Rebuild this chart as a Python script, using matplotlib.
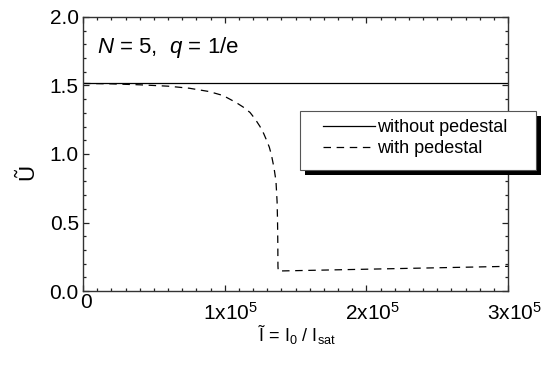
import matplotlib
matplotlib.use("Agg")
import matplotlib.pyplot as plt
from matplotlib.patches import Rectangle
from matplotlib.transforms import ScaledTranslation
from matplotlib.ticker import MultipleLocator

plt.rcParams['font.family'] = ['Liberation Sans', 'DejaVu Sans']
plt.rcParams['mathtext.fontset'] = 'custom'
plt.rcParams['mathtext.rm'] = 'Liberation Sans'
plt.rcParams['mathtext.it'] = 'Liberation Sans:italic'

# Normalised intensity and energy for the two pulse shapes
x_flat = [0, 300000]
u_flat = [1.52, 1.52]

x_ped = [0, 20000, 40000, 60000, 75000, 88900, 98800, 108000, 113000,
         117900, 121500, 124900, 127500, 129500, 131500, 133000, 134800,
         136200, 137000, 137300, 137500, 137600, 137800, 300000]
u_ped = [1.515, 1.512, 1.505, 1.495, 1.480, 1.456, 1.427, 1.376, 1.343,
         1.303, 1.255, 1.201, 1.150, 1.102, 1.050, 0.993, 0.900,
         0.803, 0.650, 0.518, 0.350, 0.182, 0.146, 0.180]

x_ticks = [0, 100000, 200000, 300000]
x_ticklabels = ['0', r'$\mathrm{1x10}^5$', r'$\mathrm{2x10}^5$', r'$\mathrm{3x10}^5$']
y_ticks = [0.0, 0.5, 1.0, 1.5, 2.0]
y_ticklabels = ['0.0', '0.5', '1.0', '1.5', '2.0']

series_labels = ['without pedestal', 'with pedestal']

fig = plt.figure(figsize=(5.52, 3.66), dpi=100)
ax = fig.add_axes([0.1504, 0.2049, 0.7699, 0.7487])

ax.plot(x_flat, u_flat, color='black', lw=0.9, label=series_labels[0])
ax.plot(x_ped, u_ped, color='black', lw=0.9, dashes=(6, 4.5), label=series_labels[1])

ax.set_xlim(0, 300000)
ax.set_ylim(0, 2.0)
ax.set_xticks(x_ticks)
ax.set_xticklabels(x_ticklabels)
ax.set_yticks(y_ticks)
ax.set_yticklabels(y_ticklabels)
ax.xaxis.set_minor_locator(MultipleLocator(10000))
ax.yaxis.set_minor_locator(MultipleLocator(0.1))
ax.tick_params(which='both', direction='in', top=True, right=True,
               width=0.9, colors='#222222', labelcolor='black', labelsize=15)
ax.tick_params(which='major', length=4)
ax.tick_params(which='minor', length=2)
ax.tick_params(axis='x', which='major', pad=8)
ax.tick_params(axis='y', which='major', pad=3)
for s in ax.spines.values():
    s.set_linewidth(1.0)
    s.set_color('#333333')

ax.set_xlabel('Ĩ = $\\mathrm{I}_0$ / $\\mathrm{I}_{\\mathrm{sat}}$', fontsize=13)
ax.xaxis.set_label_coords(0.5035, -0.117)
ax.set_ylabel('Ũ', fontsize=16)
ax.yaxis.label.set(va='center', ha='center')
ax.yaxis.set_label_coords(-0.129, 0.434)

ax.text(0.033, 0.869, r'$N$ = 5,  $q$ = 1/e', fontsize=16,
        transform=ax.transAxes, va='baseline')

# Legend box with a solid drop shadow, overhanging the right spine
bx, by, bw, bh = 0.5106, 0.4416, 0.5553, 0.2153
ax.add_patch(Rectangle((bx + 0.0118, by - 0.0183), bw, bh, transform=ax.transAxes,
                       facecolor='black', edgecolor='none', clip_on=False, zorder=4))
ax.add_patch(Rectangle((bx, by), bw, bh, transform=ax.transAxes,
                       facecolor='white', edgecolor='#555555', lw=0.8,
                       clip_on=False, zorder=5))
leg = ax.legend(loc='upper left', bbox_to_anchor=(0.5647, 0.628), frameon=False,
                borderpad=0, borderaxespad=0, handlelength=2.88,
                handletextpad=0.12, labelspacing=0.25, fontsize=13)
leg.set_zorder(6)

# Nudge tick labels to their printed positions
for i, lab in enumerate(ax.get_xticklabels()):
    dx = 6 / 100 if i > 0 else 3 / 100
    dy = 0 if i > 0 else 9 / 100
    lab.set_transform(lab.get_transform() + ScaledTranslation(dx, dy, fig.dpi_scale_trans))

fig.savefig('out.png', dpi=100)
